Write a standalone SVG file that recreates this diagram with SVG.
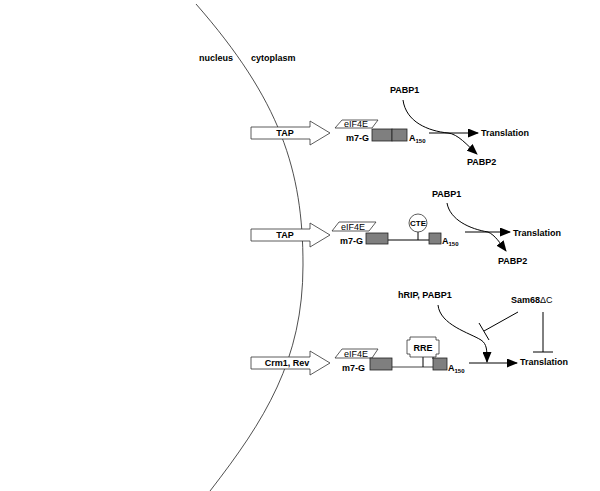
<svg xmlns="http://www.w3.org/2000/svg" width="600" height="491" viewBox="0 0 600 491">
<style>
text{font-family:"Liberation Sans",Arial,sans-serif;font-size:9px;fill:#000}
.b{font-weight:bold}
.sub{font-size:6px;font-weight:bold}
.blk{fill:#fff;stroke:#333;stroke-width:0.8}
.box{fill:#7f7f7f;stroke:#222;stroke-width:0.8}
.eif{fill:#fff;stroke:#333;stroke-width:0.8}
.ln{fill:none;stroke:#000;stroke-width:1}
.arr{fill:none;stroke:#000;stroke-width:1;marker-end:url(#ah)}
</style>
<defs>
<marker id="ah" markerUnits="userSpaceOnUse" markerWidth="11" markerHeight="9" refX="10" refY="4.5" orient="auto">
<path d="M0,0 L11,4.5 L0,9 z" fill="#000"/>
</marker>
</defs>
<rect width="600" height="491" fill="#fff"/>
<g id="membrane">
<path d="M196,4 C280,100 303,170 303,265 C303,360 265,420 210,491" fill="none" stroke="#222" stroke-width="0.8"/>
<text x="199" y="61" class="b">nucleus</text>
<text x="251" y="61" class="b">cytoplasm</text>
</g>
<g id="export1">
<path class="blk" d="M251,127 H310 V121 L330,133 L310,145 V139 H251 z"/>
<text x="285" y="136" class="b" text-anchor="middle">TAP</text>
</g>
<g id="mrna1">
<path class="eif" d="M342,120 H378 L372,128 H335 z"/>
<text x="356" y="127" text-anchor="middle">eIF4E</text>
<text x="369" y="141" class="b" text-anchor="end">m7-G</text>
<rect class="box" x="372" y="129" width="20" height="12"/>
<rect class="box" x="392" y="129" width="15" height="12"/>
<text x="409" y="141" class="b">A<tspan class="sub" dy="2">150</tspan></text>
</g>
<g id="export2">
<path class="blk" d="M251,229 H310 V223 L330,235 L310,247 V241 H251 z"/>
<text x="285" y="238" class="b" text-anchor="middle">TAP</text>
</g>
<g id="mrna2">
<path class="eif" d="M339,222 H376 L369,231 H332 z"/>
<text x="353" y="229.5" text-anchor="middle">eIF4E</text>
<text x="363" y="244" class="b" text-anchor="end">m7-G</text>
<line class="ln" x1="388" y1="240" x2="429" y2="240"/>
<line class="ln" x1="418" y1="232" x2="418" y2="240"/>
<circle cx="418" cy="223" r="9" fill="#fff" stroke="#333" stroke-width="0.8"/>
<text x="418" y="226" class="b" text-anchor="middle" style="font-size:8px">CTE</text>
<rect class="box" x="366" y="233" width="22" height="11"/>
<rect class="box" x="429" y="233" width="12" height="11"/>
<text x="442" y="244" class="b">A<tspan class="sub" dy="2">150</tspan></text>
</g>
<g id="export3">
<path class="blk" d="M251,357 H310 V351 L330,363 L310,375 V369 H251 z"/>
<text x="287" y="366" class="b" text-anchor="middle">Crm1, Rev</text>
</g>
<g id="mrna3">
<path class="eif" d="M342,349 H378 L372,358 H335 z"/>
<text x="356" y="356.5" text-anchor="middle">eIF4E</text>
<text x="365" y="371" class="b" text-anchor="end">m7-G</text>
<line x1="392" y1="367" x2="433" y2="367" stroke="#444" stroke-width="1"/>
<line class="ln" x1="423" y1="357" x2="423" y2="367"/>
<line class="ln" x1="433" y1="357" x2="433" y2="359"/>
<path d="M410,337 H436 V340 H439 V354 H436 V357 H410 V354 H407 V340 H410 z" fill="#fff" stroke="#333" stroke-width="0.8"/>
<text x="423" y="350.5" class="b" text-anchor="middle">RRE</text>
<rect class="box" x="370" y="358" width="22" height="12"/>
<rect class="box" x="433" y="358" width="14" height="12"/>
<text x="448" y="371" class="b">A<tspan class="sub" dy="2">150</tspan></text>
</g>
<g id="labels">
<text x="390" y="93" class="b">PABP1</text>
<text x="481" y="136" class="b">Translation</text>
<text x="467" y="165" class="b">PABP2</text>
<text x="432" y="197" class="b">PABP1</text>
<text x="513" y="236" class="b">Translation</text>
<text x="498" y="264" class="b">PABP2</text>
<text x="398" y="298" class="b">hRIP, PABP1</text>
<text x="511" y="303" class="b">Sam68<tspan font-weight="normal">ΔC</tspan></text>
<text x="520" y="365" class="b">Translation</text>
</g>
<g id="connectors">
<line class="arr" x1="429" y1="133" x2="478" y2="133"/>
<path class="arr" d="M403,100 C406,122 428,131 448,133 C458,134 467,145 477,154"/>
<line class="arr" x1="465" y1="232" x2="510" y2="232"/>
<path class="arr" d="M447,203 C450,220 470,229 488,232 C495,235 500,243 506,251"/>
<line class="arr" x1="469" y1="363" x2="517" y2="363"/>
<path class="arr" d="M438,305 C440,325 470,333 481,340 C487,344 487,350 487,362"/>
<line class="ln" x1="518" y1="312" x2="484" y2="331"/>
<line class="ln" x1="479" y1="323" x2="489" y2="340"/>
<line class="ln" x1="543" y1="312" x2="543" y2="352"/>
<line class="ln" x1="533" y1="352" x2="553" y2="352"/>
</g>
</svg>
